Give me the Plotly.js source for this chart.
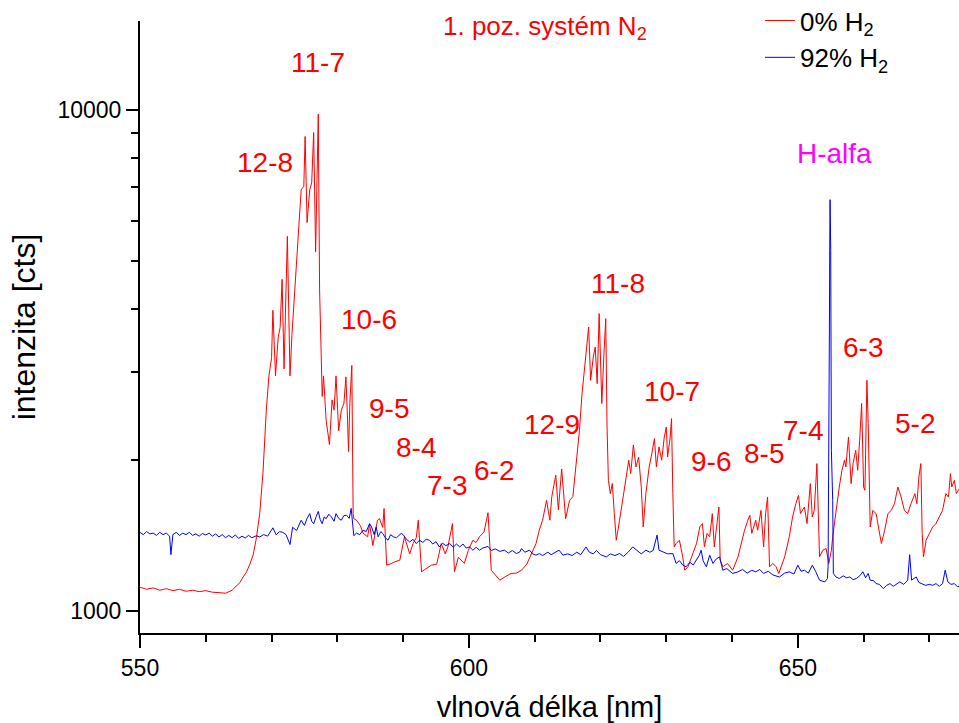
<!DOCTYPE html>
<html>
<head>
<meta charset="utf-8">
<script src="https://cdn.plot.ly/plotly-3.0.1.min.js"></script>
<style>html,body{margin:0;padding:0;background:#fff}#chart{width:959px;height:723px}</style>
</head>
<body>
<div id="chart"></div>
<script>
// 0% H2 spectrum (wavelength nm, intensity cts)
const wl0 = [550.0,551.0,552.0,553.0,554.0,555.0,556.0,557.0,558.0,559.0,560.0,561.0,562.0,563.0,564.0,564.6,565.2,565.7,566.2,566.7,567.2,567.7,568.2,568.7,569.2,569.6,570.0,570.2,570.6,571.0,571.3,571.6,571.9,572.4,572.8,573.1,573.5,574.0,574.5,574.9,575.1,575.4,575.8,576.1,576.4,576.7,577.1,577.3,577.5,577.7,577.9,578.3,578.8,579.2,579.5,579.8,580.2,580.6,581.0,581.3,581.5,581.7,581.9,582.2,582.4,582.5,582.9,583.5,583.9,584.6,584.9,585.4,586.1,586.4,586.9,587.1,587.5,588.0,588.7,589.5,590.2,591.0,591.5,592.0,592.3,592.8,593.3,594.3,595.1,595.8,596.4,596.8,597.5,597.8,598.4,599.3,599.9,600.6,601.1,601.6,602.3,602.9,603.4,604.0,604.7,605.5,606.4,607.2,608.0,608.8,609.5,610.2,610.7,611.2,611.8,612.3,612.6,613.2,613.6,614.1,614.7,615.3,615.8,616.3,616.8,617.2,617.6,617.8,618.2,618.5,618.9,619.2,619.5,619.8,620.0,620.2,620.5,620.8,621.0,621.2,621.5,621.8,622.1,622.4,622.9,623.4,623.9,624.3,624.6,625.0,625.4,625.8,626.2,626.5,626.9,627.4,627.8,628.2,628.5,628.9,629.3,629.7,630.0,630.2,630.6,630.8,631.0,631.2,631.5,632.0,632.5,632.8,633.3,634.0,634.6,635.1,635.5,635.8,636.2,636.6,637.0,637.3,638.0,638.2,638.6,639.3,640.1,640.9,641.4,641.9,642.4,642.7,643.0,643.6,643.9,644.4,644.8,645.1,645.4,645.7,646.2,646.7,647.1,648.0,648.7,649.2,649.7,650.1,650.4,651.0,651.4,651.9,652.2,652.5,652.9,653.2,653.3,653.8,654.3,654.7,655.1,655.3,655.8,656.3,656.7,657.1,657.3,657.7,658.1,658.4,658.8,659.1,659.4,659.7,660.0,660.2,660.5,660.7,661.0,661.4,661.9,662.4,662.7,663.2,663.7,664.2,664.7,665.2,665.7,666.2,666.7,667.2,667.8,668.1,668.4,668.7,668.9,669.1,669.5,670.0,670.5,671.0,671.5,672.0,672.5,672.9,673.2,673.4,673.8,674.1,674.5];
const int0 = [1115,1105,1112,1100,1108,1098,1105,1095,1100,1093,1098,1090,1088,1085,1100,1120,1140,1170,1197,1240,1293,1400,1564,1891,2514,2944,3200,3978,2944,3505,3675,4585,3040,5588,2944,3560,4305,5372,6918,7031,8838,5954,6918,7142,9000,5205,9796,4372,3114,2679,2944,2399,2147,2636,2514,2944,2288,2514,2595,2930,2514,2080,2595,3088,1564,1528,1517,1480,1430,1406,1490,1350,1517,1529,1468,1601,1234,1240,1253,1263,1406,1300,1363,1400,1517,1197,1210,1234,1240,1363,1300,1342,1494,1197,1280,1244,1320,1384,1370,1406,1438,1570,1206,1180,1152,1170,1188,1190,1206,1240,1300,1363,1450,1517,1662,1517,1690,1866,1590,1920,1527,1662,1690,1937,2290,2714,3115,3311,3685,2884,3211,3360,2841,3918,3162,2593,3211,3830,2328,1822,1714,1795,1564,1384,1517,1662,1850,1998,1879,2144,1937,2028,1767,1471,1714,1937,2060,2207,1937,2124,1998,2223,2328,2028,2223,2419,1714,1342,1363,1384,1282,1206,1225,1302,1363,1471,1494,1342,1428,1406,1564,1342,1612,1263,1225,1244,1206,1282,1363,1449,1517,1552,1428,1517,1449,1587,1342,1564,1688,1225,1244,1225,1188,1282,1406,1540,1637,1701,1564,1612,1494,1795,1540,1587,1968,1428,1282,1322,1332,1244,1322,1406,1587,1767,1908,1998,1937,2223,1795,1968,2092,1908,2190,2593,1767,1741,2884,2365,1471,1587,1564,1449,1363,1449,1564,1587,1637,1767,1688,1587,1564,1637,1714,1637,1850,1968,1428,1282,1384,1428,1471,1494,1540,1587,1714,1688,1879,1767,1822,1714,1750];

// 92% H2 spectrum
const wl92 = [550.0,550.5,551.0,551.5,552.0,552.5,553.0,553.5,554.0,554.5,554.7,555.0,555.5,556.0,556.5,557.0,557.5,558.0,558.5,559.0,559.5,560.0,560.5,561.0,561.5,562.0,562.5,563.0,563.5,564.0,564.5,565.0,565.5,566.0,566.5,567.0,567.7,568.2,568.8,569.4,570.2,570.7,571.2,571.7,572.2,572.8,573.2,573.8,574.5,575.0,575.4,575.8,576.1,576.4,576.8,577.1,577.4,577.7,578.0,578.3,578.7,579.1,579.5,579.8,580.2,580.6,581.0,581.4,581.8,582.1,582.5,582.9,583.4,583.9,584.4,584.9,585.2,585.6,585.9,586.2,586.6,586.9,587.3,587.7,588.1,588.5,589.0,589.7,590.0,590.5,591.0,591.5,592.0,592.5,593.0,593.5,594.0,594.5,595.0,595.5,596.0,596.5,597.1,597.6,598.1,598.6,599.1,599.6,600.1,600.6,601.1,601.6,602.1,602.9,603.4,604.0,604.7,605.4,606.0,606.6,607.2,607.7,608.0,608.5,609.2,609.7,610.2,610.7,611.2,612.0,612.5,613.0,613.7,614.3,615.0,615.7,616.4,617.0,617.8,618.3,618.9,619.4,620.0,620.9,621.5,622.2,622.9,623.5,624.2,624.9,625.5,626.2,626.9,627.5,628.0,628.6,628.9,629.5,630.2,631.0,631.5,632.0,632.5,633.0,633.6,634.1,634.6,635.0,635.3,635.6,636.1,636.6,637.1,637.6,638.1,638.6,639.2,640.1,640.9,641.6,642.3,643.0,643.6,644.2,644.8,645.5,646.2,647.2,648.0,648.7,649.4,650.0,650.5,651.0,651.6,652.2,652.7,653.3,654.1,654.5,654.6,654.7,654.8,654.85,654.9,655.0,655.1,655.3,655.4,655.8,656.3,656.9,657.4,657.9,658.4,658.9,659.4,659.9,660.3,660.7,661.0,661.5,661.9,662.4,663.0,663.5,664.0,664.5,665.0,665.5,666.1,666.7,667.0,667.3,667.6,668.0,668.4,668.8,669.4,670.0,670.5,671.0,671.5,672.0,672.4,672.8,673.3,673.8,674.3,674.5];
const int92 = [1435,1420,1440,1425,1430,1415,1435,1420,1430,1410,1295,1420,1435,1415,1430,1420,1435,1415,1425,1410,1428,1418,1430,1410,1425,1405,1420,1400,1415,1400,1418,1395,1410,1398,1415,1400,1413,1405,1420,1410,1465,1419,1440,1435,1420,1357,1469,1447,1517,1481,1530,1564,1510,1493,1545,1580,1520,1493,1540,1528,1560,1540,1510,1564,1530,1517,1550,1552,1530,1602,1413,1430,1420,1449,1440,1494,1471,1420,1471,1406,1440,1428,1400,1384,1420,1406,1400,1428,1420,1390,1373,1390,1363,1384,1370,1390,1384,1360,1375,1342,1365,1350,1363,1340,1360,1342,1360,1335,1342,1322,1340,1322,1335,1345,1320,1330,1315,1322,1305,1320,1302,1310,1332,1310,1322,1300,1292,1302,1290,1310,1295,1305,1322,1292,1300,1290,1310,1295,1342,1310,1300,1320,1295,1282,1300,1290,1302,1285,1310,1342,1320,1300,1322,1310,1320,1417,1322,1310,1300,1302,1244,1260,1235,1225,1250,1235,1263,1290,1322,1260,1225,1292,1244,1270,1282,1206,1215,1188,1197,1210,1190,1205,1197,1210,1188,1200,1180,1169,1190,1197,1185,1234,1200,1206,1190,1234,1200,1152,1143,1160,1225,1767,3685,5321,6613,5241,2092,1662,1188,1169,1161,1175,1165,1169,1155,1161,1175,1197,1165,1188,1152,1150,1134,1130,1108,1125,1134,1120,1130,1143,1130,1152,1295,1152,1160,1169,1140,1134,1125,1130,1125,1134,1120,1134,1206,1143,1130,1134,1117,1120];

// Axis ticks
const yMajorTicks = [1000, 10000];
const yMajorText = ['1000', '10000'];
const yMinorTicks = [2000, 3000, 4000, 5000, 6000, 7000, 8000, 9000];
const xMajorTicks = [550, 600, 650];

// Band labels (x nm, y cts, text)
const bandText = ['11-7','12-8','10-6','9-5','8-4','7-3','6-2','12-9','11-8','10-7','9-6','8-5','7-4','6-3','5-2'];
const bandX    = [577.0, 569.05, 584.8, 587.8, 591.9, 596.6, 603.85, 612.7, 622.65, 630.8, 636.85, 644.85, 650.75, 659.85, 667.8];
const bandY    = [12400, 7843, 3818, 2533, 2116, 1781, 1908, 2355, 4505, 2745, 1991, 2060, 2293, 3360, 2365];

const FONT = 'Liberation Sans, Arial, sans-serif';

const traces = [
  {x: wl0, y: int0, type: 'scatter', mode: 'lines', name: '0% H<sub>2</sub>',
   line: {color: '#ff0000', width: 1}},
  {x: wl92, y: int92, type: 'scatter', mode: 'lines', name: '92% H<sub>2</sub>',
   line: {color: '#0000ff', width: 1}}
];

const annotations = bandText.map((t, i) => ({
  x: bandX[i], y: Math.log10(bandY[i]), xref: 'x', yref: 'y', text: t,
  showarrow: false, font: {family: FONT, size: 28, color: '#ff0000'},
  xanchor: 'center', yanchor: 'middle'
}));
annotations.push({
  x: 655.55, y: Math.log10(8180), xref: 'x', yref: 'y', text: 'H-alfa',
  showarrow: false, font: {family: FONT, size: 28, color: '#ff00ff'},
  xanchor: 'center', yanchor: 'middle'
});
annotations.push({
  x: 0.3675, y: 0.99, xref: 'paper', yref: 'paper', text: '1. poz. systém N<sub>2</sub>',
  showarrow: false, font: {family: FONT, size: 26, color: '#ff0000'},
  xanchor: 'left', yanchor: 'middle'
});

const layout = {
  width: 959, height: 723,
  margin: {l: 140, r: 0, t: 21, b: 90, autoexpand: false},
  paper_bgcolor: '#ffffff', plot_bgcolor: '#ffffff',
  font: {family: FONT, color: '#000000'},
  showlegend: true,
  legend: {x: 0.757, y: 1.039, xanchor: 'left', yanchor: 'top', tracegroupgap: 0,
           font: {family: FONT, size: 26, color: '#000'}, bgcolor: 'rgba(0,0,0,0)'},
  xaxis: {
    range: [550, 674.5], tickmode: 'array', tickvals: xMajorTicks,
    ticks: 'outside', ticklen: 13, tickwidth: 2, tickcolor: '#000',
    showline: true, linewidth: 2, linecolor: '#000', mirror: false,
    showgrid: false, zeroline: false,
    tickfont: {family: FONT, size: 23, color: '#000'},
    minor: {dtick: 10, tick0: 550, ticks: 'outside', ticklen: 7, tickwidth: 2, tickcolor: '#000', showgrid: false},
    title: {text: 'vlnová délka [nm]', font: {family: FONT, size: 29, color: '#000'}, standoff: 20}
  },
  yaxis: {
    type: 'log', range: [2.9561, 4.1767], tickmode: 'array',
    tickvals: yMajorTicks, ticktext: yMajorText,
    ticks: 'outside', ticklen: 12, tickwidth: 2, tickcolor: '#000',
    showline: true, linewidth: 2, linecolor: '#000', mirror: false,
    showgrid: false, zeroline: false,
    tickfont: {family: FONT, size: 23, color: '#000'},
    minor: {tickmode: 'array', tickvals: yMinorTicks, ticks: 'outside', ticklen: 7, tickwidth: 2, tickcolor: '#000', showgrid: false},
    title: {text: 'intenzita [cts]', font: {family: FONT, size: 32, color: '#000'}, standoff: 12}
  },
  annotations: annotations
};

Plotly.newPlot('chart', traces, layout, {displayModeBar: false, staticPlot: true});
</script>
</body>
</html>
